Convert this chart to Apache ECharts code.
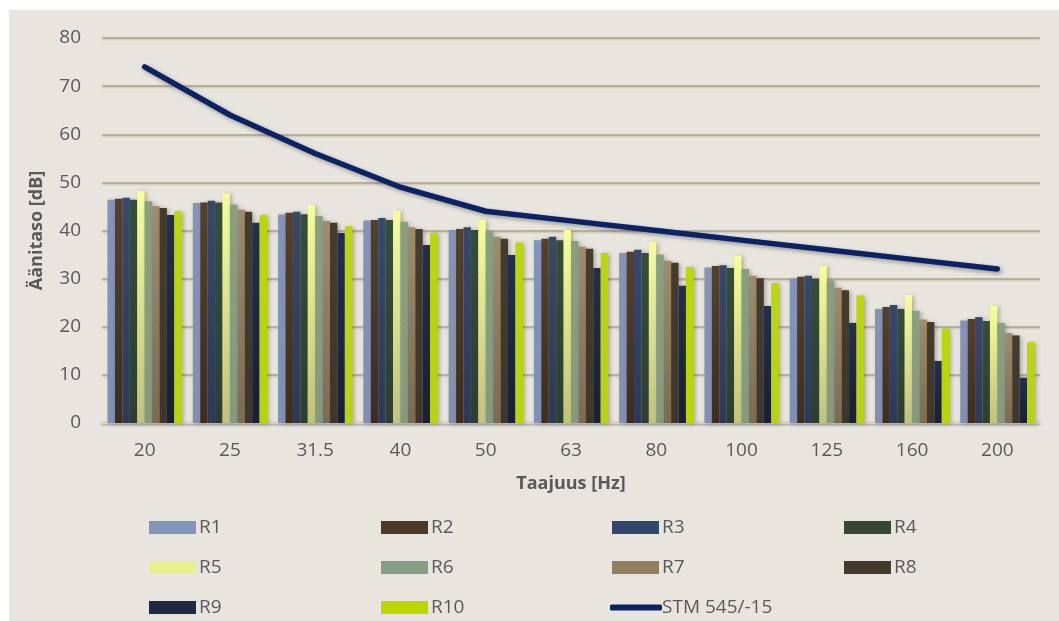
<!DOCTYPE html>
<html>
<head>
<meta charset="utf-8">
<script src="https://cdn.jsdelivr.net/npm/echarts@6/dist/echarts.min.js"></script>
<style>
  html, body { margin: 0; padding: 0; background: #ffffff; }
  #wrap { position: relative; width: 1059px; height: 621px; overflow: hidden; }
  #bg { position: absolute; left: 9px; top: 10px; width: 1050px; height: 611px; background: #E8E5DE; }
  #chart { position: absolute; left: 0; top: 0; width: 1059px; height: 621px; }
</style>
</head>
<body>
<div id="wrap"><div id="bg"></div><div id="chart"></div></div>
<script>
const categories = ['20', '25', '31.5', '40', '50', '63', '80', '100', '125', '160', '200'];
const seriesNames = ['R1', 'R2', 'R3', 'R4', 'R5', 'R6', 'R7', 'R8', 'R9', 'R10'];
const r1  = [46.4, 45.7, 43.3, 42.1, 40.1, 38.0, 35.3, 32.3, 30.0, 23.7, 21.3];
const r2  = [46.6, 45.8, 43.7, 42.2, 40.3, 38.3, 35.6, 32.6, 30.4, 24.1, 21.6];
const r3  = [46.8, 46.2, 43.9, 42.6, 40.7, 38.7, 36.0, 32.8, 30.6, 24.5, 22.0];
const r4  = [46.4, 45.8, 43.4, 42.2, 40.1, 38.0, 35.3, 32.2, 30.0, 23.7, 21.2];
const r5  = [48.2, 47.7, 45.3, 44.1, 42.2, 40.1, 37.6, 34.8, 32.7, 26.6, 24.3];
const r6  = [46.1, 45.4, 43.0, 41.8, 39.8, 37.8, 35.0, 32.0, 29.6, 23.3, 20.8];
const r7  = [45.1, 44.3, 42.0, 40.7, 38.7, 36.6, 33.7, 30.6, 28.1, 21.5, 18.7];
const r8  = [44.7, 43.9, 41.6, 40.3, 38.3, 36.2, 33.3, 30.1, 27.6, 21.0, 18.2];
const r9  = [43.2, 41.6, 39.5, 37.0, 34.9, 32.2, 28.5, 24.3, 20.8, 12.9, 9.4];
const r10 = [44.0, 43.2, 40.9, 39.5, 37.5, 35.3, 32.4, 29.1, 26.5, 19.6, 16.8];
const stmName = 'STM 545/-15';
const stm = [74, 64, 56, 49, 44, 42, 40, 38, 36, 34, 32];
const yTicks = { min: 0, max: 80, interval: 10 };

const barData = [r1, r2, r3, r4, r5, r6, r7, r8, r9, r10];
const grad = (a, b) => new echarts.graphic.LinearGradient(0, 0, 0, 1, [{offset: 0, color: a}, {offset: 1, color: b}]);
const barColors = [
  grad('#8294BA', '#7E90B4'),
  grad('#56402B', '#3E2D1D'),
  grad('#35496F', '#2B3A59'),
  grad('#384D38', '#2D3E2D'),
  grad('#F6FF98', '#C0C379'),
  grad('#86A086', '#829A82'),
  grad('#A08C6A', '#7C6B50'),
  grad('#453C30', '#3F362B'),
  grad('#21304E', '#162036'),
  grad('#B9D900', '#B7D600')
];
const legendColors = ['#8294BA', '#4C3A27', '#33466D', '#344934', '#E6F08E', '#849D85', '#917F60', '#433A2E', '#1D2A44', '#B8D800', '#0B2264'];

const font = 'Open Sans, Noto Sans, sans-serif';
const textColor = '#595959';

const series = barData.map((d, i) => ({
  name: seriesNames[i],
  type: 'bar',
  data: d,
  barGap: '0%',
  barCategoryGap: '13%',
  itemStyle: {
    color: barColors[i],
    shadowColor: 'rgba(60,50,40,0.35)',
    shadowBlur: 4,
    shadowOffsetX: 2,
    shadowOffsetY: 1
  },
  emphasis: { disabled: true }
}));
series.push({
  name: stmName,
  type: 'line',
  data: stm,
  symbol: 'none',
  z: 5,
  lineStyle: {
    color: '#0B2264',
    width: 5.5,
    cap: 'round',
    join: 'round',
    shadowColor: 'rgba(0,0,0,0.35)',
    shadowBlur: 4,
    shadowOffsetX: 2,
    shadowOffsetY: 2
  },
  itemStyle: { color: '#0B2264' }
});

const colLeft = [149, 381, 612, 844];
const rowTop = [518, 558, 598];
const legendNames = seriesNames.concat([stmName]);
const legends = legendNames.map((n, i) => {
  const isLine = n === stmName;
  return {
    data: [{
      name: n,
      icon: isLine ? 'roundRect' : 'rect',
      itemStyle: { color: legendColors[i], borderWidth: 0 }
    }],
    left: colLeft[i % 4] - (isLine ? 2 : 0),
    top: rowTop[Math.floor(i / 4)],
    itemWidth: isLine ? 52 : 47,
    itemHeight: isLine ? 6 : 13,
    itemGap: 5,
    selectedMode: false,
    textStyle: { fontFamily: font, fontSize: 19, color: textColor, padding: [0, 0, 0, isLine ? -5 : -2] },
    padding: 0
  };
});

const chart = echarts.init(document.getElementById('chart'), null, { renderer: 'canvas' });
chart.setOption({
  backgroundColor: 'transparent',
  animation: false,
  legend: legends,
  grid: { left: 102, right: 19, top: 38, bottom: 198 },
  xAxis: {
    type: 'category',
    data: categories,
    name: 'Taajuus [Hz]',
    nameLocation: 'middle',
    nameGap: 52,
    nameTextStyle: { fontFamily: font, fontSize: 18, fontWeight: 'bold', color: textColor },
    axisLine: { show: true, lineStyle: { color: '#D4D0C8', width: 2, shadowColor: 'rgba(0,0,0,0.25)', shadowBlur: 3, shadowOffsetY: 1 } },
    axisTick: { show: false },
    axisLabel: { fontFamily: font, fontSize: 19, color: textColor, margin: 18 }
  },
  yAxis: {
    type: 'value',
    min: yTicks.min,
    max: yTicks.max,
    interval: yTicks.interval,
    name: 'Äänitaso [dB]',
    nameLocation: 'middle',
    nameGap: 56,
    nameRotate: 90,
    nameTextStyle: { fontFamily: font, fontSize: 18, fontWeight: 'bold', color: textColor },
    axisLine: { show: false },
    axisTick: { show: false },
    axisLabel: { fontFamily: font, fontSize: 19, color: textColor, margin: 21 },
    splitLine: { lineStyle: { color: '#B9AF9C', width: 2, shadowColor: 'rgba(0,0,0,0.15)', shadowBlur: 2, shadowOffsetY: 1 } }
  },
  series: series
});
</script>
</body>
</html>
